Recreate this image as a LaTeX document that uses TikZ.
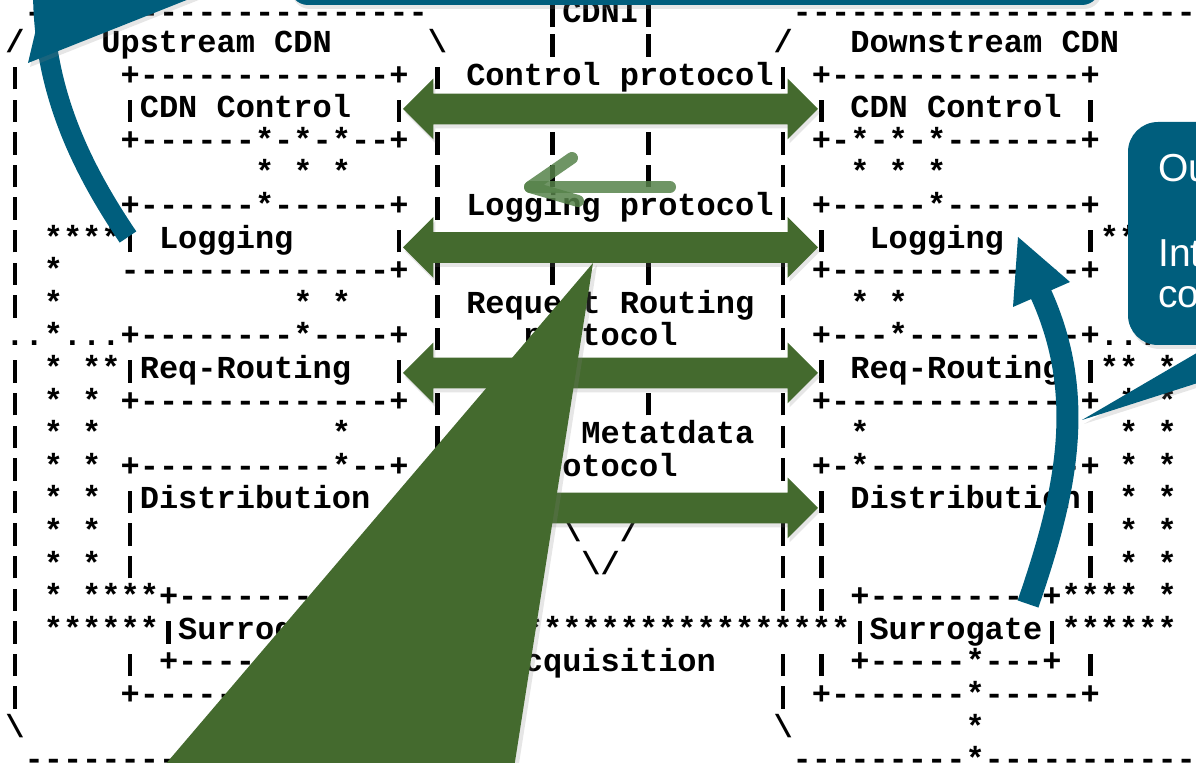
\documentclass[tikz,border=0pt]{standalone}
\usepackage{fontspec}
\setmonofont{Liberation Mono}
\newfontfamily\calloutfont{Liberation Sans}
\usetikzlibrary{shapes.arrows, shadows}
\definecolor{cdnigreen}{RGB}{68,106,46}
\definecolor{hintgreen}{RGB}{86,130,74}
\definecolor{noteblue}{RGB}{0,94,125}
\newcommand\blanks[1]{\hspace*{#1\fontcharwd\font`x}}
\newcommand\vb{\makebox[\fontcharwd\font`x]{\rule[-0.13em]{0.14em}{0.7em}}}
\tikzset{
  ascii/.style={anchor=base west, inner sep=0pt, outer sep=0pt,
    font=\ttfamily\bfseries\fontsize{16pt}{16pt}\selectfont},
  proto/.style={double arrow, fill=cdnigreen, inner sep=0pt,
    text height=7.5pt, text depth=7.5pt,
    minimum width=30pt, minimum height=207.5pt,
    double arrow head extend=7.5pt, double arrow tip angle=90,
    drop shadow={shadow xshift=1pt, shadow yshift=-2pt, opacity=.2}},
  tail/.style={fill=cdnigreen, drop shadow={shadow xshift=2pt, shadow yshift=-1pt, opacity=.2}},
  hint/.style={draw=hintgreen, line width=6pt, line cap=round, line join=round, opacity=.85},
  note/.style={fill=noteblue, drop shadow={shadow xshift=1pt, shadow yshift=-2pt, opacity=.2}},
  band/.style={draw=noteblue, line width=11pt},
  notetext/.style={anchor=base west, inner sep=0pt, text=white,
    font=\calloutfont\fontsize{19.5pt}{20pt}\selectfont},
}

\begin{document}
\begin{tikzpicture}[x=0.5pt, y=-0.5pt]
  \useasboundingbox (0,0) rectangle (1196,763);
  \clip (0,0) rectangle (1196,763);

  % the CDNI figure, one node per line (baseline 20 + 32.6 r, columns 19.2 wide)
  \node[ascii] (r0) at (5.4,23) {\blanks{1}---------------------\blanks{6}\vb CDNI\vb\blanks{7}---------------------};
  \node[ascii] (r1) at (5.4,52.6) {/\blanks{4}Upstream CDN\blanks{5}\textbackslash\blanks{5}\vb\blanks{4}\vb\blanks{6}/\blanks{3}Downstream CDN};
  \node[ascii] (r2) at (5.4,85.2) {\vb\blanks{5}+-------------+\blanks{1}\vb\blanks{1}Control protocol\vb\blanks{1}+-------------+};
  \node[ascii] (r3) at (5.4,117.8) {\vb\blanks{5}\vb CDN Control\blanks{2}\vb\blanks{21}\vb\blanks{1}CDN Control\blanks{1}\vb};
  \node[ascii] (r4) at (5.4,150.4) {\vb\blanks{5}+------*-*-*--+\blanks{1}\vb\blanks{5}\vb\blanks{4}\vb\blanks{6}\vb\blanks{1}+-*-*-*-------+};
  \node[ascii] (r5) at (5.4,183) {\vb\blanks{12}* * *\blanks{4}\vb\blanks{5}\vb\blanks{4}\vb\blanks{6}\vb\blanks{3}* * *};
  \node[ascii] (r6) at (5.4,215.6) {\vb\blanks{5}+------*------+\blanks{1}\vb\blanks{1}Logging protocol\vb\blanks{1}+-----*-------+};
  \node[ascii] (r7) at (5.4,248.2) {\vb\blanks{1}****\vb\blanks{1}Logging\blanks{5}\vb\blanks{21}\vb\blanks{2}Logging\blanks{4}\vb**};
  \node[ascii] (r8) at (5.4,280.8) {\vb\blanks{1}*\blanks{3}--------------+\blanks{1}\vb\blanks{5}\vb\blanks{4}\vb\blanks{6}\vb\blanks{1}+-------------+};
  \node[ascii] (r9) at (5.4,313.4) {\vb\blanks{1}*\blanks{12}* *\blanks{4}\vb\blanks{1}Request Routing\blanks{1}\vb\blanks{3}* *};
  \node[ascii] (r10) at (5.4,346) {..*...+--------*----+\blanks{1}\vb\blanks{4}protocol\blanks{5}\vb\blanks{1}+---*---------+.....};
  \node[ascii] (r11) at (5.4,378.6) {\vb\blanks{1}*\blanks{1}**\vb Req-Routing\blanks{2}\vb\blanks{21}\vb\blanks{1}Req-Routing\blanks{1}\vb**\blanks{1}*};
  \node[ascii] (r12) at (5.4,411.2) {\vb\blanks{1}*\blanks{1}*\blanks{1}+-------------+\blanks{1}\vb\blanks{5}\vb\blanks{4}\vb\blanks{6}\vb\blanks{1}+-------------+\blanks{1}*\blanks{1}*};
  \node[ascii] (r13) at (5.4,443.8) {\vb\blanks{1}*\blanks{1}*\blanks{12}*\blanks{4}\vb\blanks{7}Metatdata\blanks{1}\vb\blanks{3}*\blanks{13}*\blanks{1}*};
  \node[ascii] (r14) at (5.4,476.4) {\vb\blanks{1}*\blanks{1}*\blanks{1}+----------*--+\blanks{1}\vb\blanks{4}protocol\blanks{5}\vb\blanks{1}+-*-----------+\blanks{1}*\blanks{1}*};
  \node[ascii] (r15) at (5.4,509) {\vb\blanks{1}*\blanks{1}*\blanks{1}\vb Distribution\blanks{23}\vb\blanks{1}Distribution\vb\blanks{1}*\blanks{1}*};
  \node[ascii] (r16) at (5.4,541.6) {\vb\blanks{1}*\blanks{1}*\blanks{1}\vb\blanks{22}\textbackslash\blanks{2}/\blanks{7}\vb\blanks{1}\vb\blanks{13}\vb\blanks{1}*\blanks{1}*};
  \node[ascii] (r17) at (5.4,574.2) {\vb\blanks{1}*\blanks{1}*\blanks{1}\vb\blanks{23}\textbackslash/\blanks{8}\vb\blanks{1}\vb\blanks{13}\vb\blanks{1}*\blanks{1}*};
  \node[ascii] (r18) at (5.4,606.8) {\vb\blanks{1}*\blanks{1}****+---------+\blanks{21}\vb\blanks{1}\vb\blanks{1}+---------+****\blanks{1}*};
  \node[ascii] (r19) at (5.4,639.4) {\vb\blanks{1}******\vb Surrogate\vb*************************\vb Surrogate\vb******};
  \node[ascii] (r20) at (5.4,672) {\vb\blanks{5}\vb\blanks{1}+---------+\blanks{7}Acquisition\blanks{3}\vb\blanks{1}\vb\blanks{1}+-----*---+\blanks{1}\vb};
  \node[ascii] (r21) at (5.4,704.6) {\vb\blanks{5}+-------------+\blanks{19}\vb\blanks{1}+-------*-----+};
  \node[ascii] (r22) at (5.4,737.2) {\textbackslash\blanks{39}\textbackslash\blanks{9}*};
  \node[ascii] (r23) at (5.4,769.8) {\blanks{1}---------------------\blanks{19}---------*-----------};

  % protocol arrows between the two CDNs
  \node[proto] (ctl) at (610.5,109) {};
  \node[proto] (log) at (610.5,247.5) {};
  \node[proto] (rr) at (610.5,373) {};
  \node[proto] (meta) at (610.5,508) {};

  % small hint arrow over the logging protocol
  \coordinate (hintstart) at (670,187);
  \coordinate (hinttip) at (530,187);
  \draw[hint] (hintstart) -- (hinttip);
  \draw[hint] (572,158) -- (hinttip) -- (578,201);

  % tail of a green callout below the picture
  \fill[tail] (593,263) -- (135,800) -- (509,800) -- cycle;

  % blue callouts
  \fill[note, rounded corners=9pt] (290,-120) rectangle (1100,5);
  \draw[band, line width=10pt] (43,-10) .. controls (43,80) and (73,156) .. (128,237);
  \fill[note] (28,63) -- (50,-30) -- (300,-45) -- cycle;

  \fill[note, rounded corners=15pt] (1128,122) rectangle (1330,345);
  \fill[note] (1082,420) -- (1219,340) -- (1332,340) -- cycle;
  \node[notetext] (ou) at (1158,182) {Ou};
  \node[notetext] (int) at (1158,267) {Int};
  \node[notetext] (co) at (1158,308) {co};

  \draw[band] (1028,604) .. controls (1066,494) and (1088,396) .. (1040,292);
  \fill[noteblue] (1018,237) -- (1013,307) -- (1070,282) -- cycle;
\end{tikzpicture}
\end{document}
